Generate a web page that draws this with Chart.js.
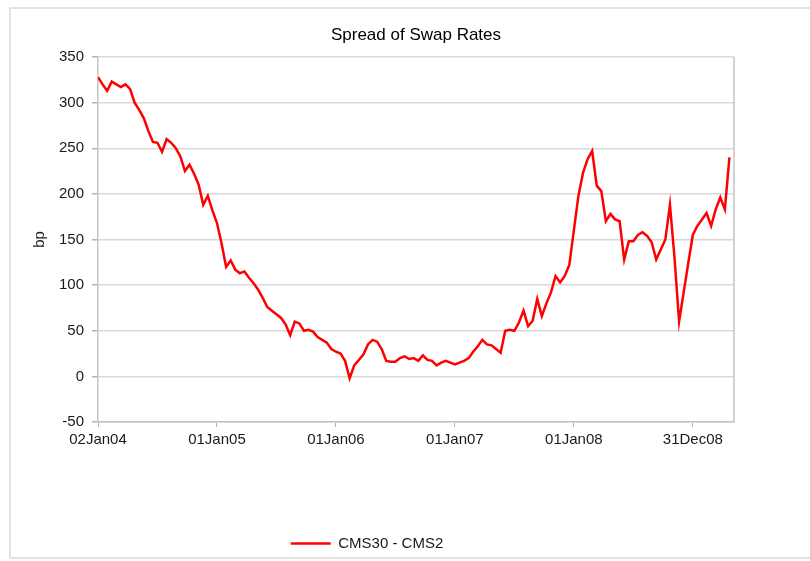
<!DOCTYPE html>
<html>
<head>
<meta charset="utf-8">
<title>Spread of Swap Rates</title>
<script src="https://cdn.jsdelivr.net/npm/chart.js@4.4.1/dist/chart.umd.min.js"></script>
<style>
  html, body { margin: 0; padding: 0; background: #fff; }
  #wrap { position: relative; width: 810px; height: 561px; overflow: hidden; }
  #frame { position: absolute; left: 9px; top: 7px; width: 830px; height: 552px; border: 2px solid #e2e2e2; box-sizing: border-box; }
  #chart { position: absolute; left: 0; top: 0; }
</style>
</head>
<body>
<div id="wrap">
  <div id="frame"></div>
  <canvas id="chart" width="810" height="561"></canvas>
</div>
<script>
// biweekly CMS30 - CMS2 spread in bp (Jan 2004 .. May 2009)
const spread = [
  328, 320, 313, 323, 320, 317, 320, 315, 300, 292,
  283, 269, 257, 256, 246, 260, 256, 250, 241, 225,
  232, 222, 210, 188, 198, 182, 168, 146, 120, 127,
  117, 113, 115, 108, 102, 95, 86, 76, 72, 68,
  64, 57, 45, 60, 58, 50, 51, 49, 43, 40,
  37, 30, 27, 25, 17, -2, 12, 18, 24, 35,
  40, 38, 30, 17, 16, 16, 20, 22, 19, 20,
  17, 23, 18, 17, 12, 15, 17, 15, 13, 15,
  17, 20, 27, 33, 40, 35, 34, 30, 26, 50,
  51, 50, 59, 72, 55, 61, 85, 66, 80, 92,
  110, 103, 110, 122, 160, 198, 223, 238, 247, 209,
  203, 170, 178, 172, 170, 128, 148, 148, 155, 158,
  154, 147, 128, 139, 150, 188, 130, 60, 92, 124,
  155, 165, 172, 179, 165, 183, 196, 183, 240
];
const tickLabels = ['02Jan04', '01Jan05', '01Jan06', '01Jan07', '01Jan08', '31Dec08'];
const TICK_STEP = 26;   // points between labelled dates (one year)
const seriesName = 'CMS30 - CMS2';

const FONT = "'Liberation Sans', Arial, sans-serif";

// right edge of the plot area
const plotFrame = {
  id: 'plotFrame',
  afterDraw(chart) {
    const { ctx, chartArea: a } = chart;
    ctx.save();
    ctx.strokeStyle = '#c4c4c4';
    ctx.lineWidth = 1.5;
    ctx.beginPath();
    ctx.moveTo(a.right, a.top);
    ctx.lineTo(a.right, a.bottom);
    ctx.stroke();
    ctx.restore();
  }
};

new Chart(document.getElementById('chart'), {
  type: 'line',
  data: {
    datasets: [{
      label: seriesName,
      data: spread.map((v, i) => ({ x: i, y: v })),
      borderColor: '#ff0000',
      borderWidth: 2.5,
      pointRadius: 0,
      tension: 0
    }]
  },
  options: {
    responsive: false,
    animation: false,
    layout: { padding: { left: 0, right: 76, top: 0, bottom: 0 } },
    scales: {
      x: {
        type: 'linear',
        min: 0,
        max: 139,
        afterBuildTicks: (scale) => {
          scale.ticks = tickLabels.map((_, i) => ({ value: i * TICK_STEP }));
        },
        afterFit: (scale) => { scale.height = 104; },
        ticks: {
          callback: (v) => tickLabels[Math.round(v / TICK_STEP)],
          maxRotation: 0,
          autoSkip: false,
          padding: 4,
          color: '#1a1a1a',
          font: { family: FONT, size: 15 }
        },
        grid: { drawOnChartArea: false, drawTicks: true, tickLength: 5, tickColor: '#b4b4b4' },
        border: { display: true, color: '#c4c4c4', width: 1.5 }
      },
      y: {
        min: -50,
        max: 350,
        afterFit: (scale) => { scale.width = 98; },
        ticks: {
          stepSize: 50,
          padding: 8,
          color: '#1a1a1a',
          font: { family: FONT, size: 15 }
        },
        grid: { color: '#d8d8d8', lineWidth: 1.5, tickLength: 6, tickColor: '#b4b4b4' },
        border: { display: true, color: '#c4c4c4', width: 1.5 },
        title: {
          display: true,
          text: 'bp',
          color: '#1a1a1a',
          font: { family: FONT, size: 15 },
          padding: { top: 31, bottom: 0 }
        }
      }
    },
    plugins: {
      title: {
        display: true,
        fullSize: false,
        text: 'Spread of Swap Rates',
        color: '#000',
        font: { family: FONT, size: 17, weight: 'normal' },
        padding: { top: 25, bottom: 11.6 }
      },
      legend: {
        position: 'bottom',
        labels: {
          usePointStyle: true,
          pointStyle: 'line',
          pointStyleWidth: 40,
          padding: 10,
          color: '#1a1a1a',
          font: { family: FONT, size: 15 }
        }
      },
      tooltip: { enabled: false }
    }
  },
  plugins: [plotFrame]
});
</script>
</body>
</html>
